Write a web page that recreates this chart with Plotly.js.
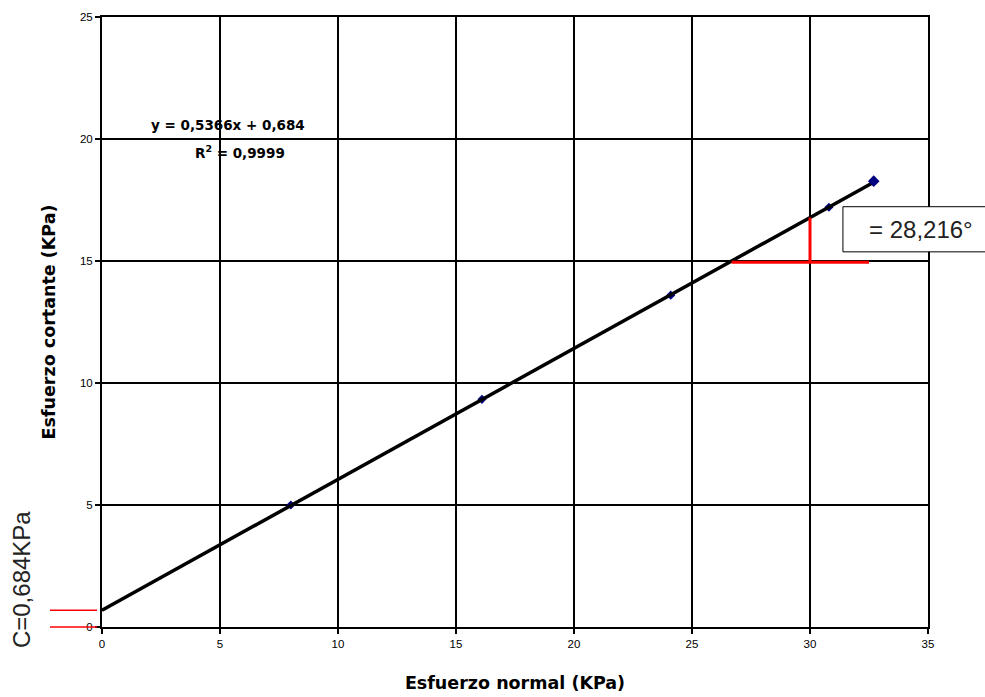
<!DOCTYPE html>
<html>
<head>
<meta charset="utf-8">
<script src="https://cdn.plot.ly/plotly-3.0.1.min.js"></script>
<style>
  html, body { margin: 0; padding: 0; background: #fff; }
  #chart { width: 985px; height: 697px; }
</style>
</head>
<body>
<div id="chart"></div>
<script>
// Direct shear test: normal stress vs. shear stress
const normalStress = [8.0, 16.1, 24.1, 30.8, 32.7];   // KPa
const shearStress  = [5.0, 9.33, 13.6, 17.2, 18.27];  // KPa

// Linear fit reported for the series
const slope = 0.5366;
const intercept = 0.684;
const rSquared = 0.9999;
const frictionAngle = 28.216;  // degrees

// Axis ranges and tick steps
const xRange = [0, 35];
const yRange = [0, 25];
const tickStep = 5;

const fmt = (v, d) => v.toFixed(d).replace('.', ',');

// Trendline from the fitted equation, across the measured span
const fitX = [0, normalStress[normalStress.length - 1]];
const fitY = fitX.map(x => slope * x + intercept);

// Slope triangle (run along y = 15, rise at x = 30)
const triY = 14.95;
const triXStart = (15 - intercept) / slope;
const triXEnd = 32.5;
const riseX = 30;
const riseTop = slope * riseX + intercept;

const toPaperY = v => (v - yRange[0]) / (yRange[1] - yRange[0]);

const points = {
  x: normalStress.slice(0, -1), y: shearStress.slice(0, -1),
  type: 'scatter', mode: 'markers',
  marker: { symbol: 'diamond', size: 7, color: '#000080' },
  hoverinfo: 'x+y', showlegend: false
};

const trend = {
  x: fitX, y: fitY,
  type: 'scatter', mode: 'lines',
  line: { color: '#000', width: 3.5 },
  hoverinfo: 'skip', showlegend: false
};

const lastPoint = {
  x: normalStress.slice(-1),
  y: shearStress.slice(-1),
  type: 'scatter', mode: 'markers',
  marker: { symbol: 'diamond', size: 9, color: '#000080' },
  hoverinfo: 'skip', showlegend: false
};

const tickFont = { family: 'Arial, "Liberation Sans", sans-serif', size: 11.5, color: '#000' };
const titleFont = { family: '"DejaVu Sans", Arial, sans-serif', size: 17.5, color: '#000', weight: 'bold' };
const bigFont = { family: 'Arial, "Liberation Sans", sans-serif', size: 24, color: '#222' };
const eqFont = { family: '"DejaVu Sans", Arial, sans-serif', size: 13.5, color: '#000', weight: 'bold' };

const layout = {
  width: 985, height: 697, autosize: false,
  margin: { l: 102, r: 57, t: 17, b: 70 },
  paper_bgcolor: '#fff', plot_bgcolor: '#fff',
  xaxis: {
    range: xRange, dtick: tickStep, tick0: 0,
    showgrid: true, gridcolor: '#000', gridwidth: 1.2,
    zeroline: false,
    showline: true, linecolor: '#000', linewidth: 2, mirror: true,
    ticks: 'outside', ticklen: 5, tickcolor: '#000', tickwidth: 1.5,
    tickfont: tickFont,
    title: { text: 'Esfuerzo normal (KPa)', font: titleFont, standoff: 28 }
  },
  yaxis: {
    range: yRange, dtick: tickStep, tick0: 0,
    showgrid: true, gridcolor: '#000', gridwidth: 1.2,
    zeroline: false,
    showline: true, linecolor: '#000', linewidth: 2, mirror: true,
    ticks: 'outside', ticklen: 5, tickcolor: '#000', tickwidth: 1.5,
    tickfont: tickFont,
    title: { text: 'Esfuerzo cortante (KPa)', font: titleFont, standoff: 20 }
  },
  shapes: [
    // slope triangle
    { type: 'line', xref: 'x', yref: 'y', x0: triXStart, x1: triXEnd, y0: triY, y1: triY,
      line: { color: '#ff0000', width: 3 } },
    { type: 'line', xref: 'x', yref: 'y', x0: riseX, x1: riseX, y0: triY, y1: riseTop,
      line: { color: '#ff0000', width: 3 } },
    // cohesion markers beside the y axis
    { type: 'line', xref: 'paper', yref: 'paper', x0: -0.063, x1: -0.006,
      y0: toPaperY(intercept), y1: toPaperY(intercept), line: { color: '#ff0000', width: 1.5 } },
    { type: 'line', xref: 'paper', yref: 'paper', x0: -0.063, x1: -0.006,
      y0: toPaperY(0), y1: toPaperY(0), line: { color: '#ff0000', width: 1.5 } },
    // frame for the friction angle
    { type: 'rect', xref: 'paper', yref: 'paper', x0: 0.897, x1: 1.08, y0: 0.615, y1: 0.689,
      fillcolor: '#fff', line: { color: '#000', width: 1 } }
  ],
  annotations: [
    { xref: 'paper', yref: 'paper', x: 0.1525, y: 0.823, showarrow: false,
      text: 'y = ' + fmt(slope, 4) + 'x + ' + fmt(intercept, 3), font: eqFont,
      xanchor: 'center', yanchor: 'middle' },
    { xref: 'paper', yref: 'paper', x: 0.167, y: 0.779, showarrow: false,
      text: 'R<sup>2</sup> = ' + fmt(rSquared, 4), font: eqFont,
      xanchor: 'center', yanchor: 'middle' },
    { xref: 'paper', yref: 'paper', x: 0.926, y: 0.651, showarrow: false,
      text: '= ' + fmt(frictionAngle, 3) + '°', font: bigFont,
      xanchor: 'left', yanchor: 'middle' },
    { xref: 'paper', yref: 'paper', x: -0.098, y: 0.077, showarrow: false,
      text: 'C=' + fmt(intercept, 3) + 'KPa', font: bigFont, textangle: -90,
      xanchor: 'center', yanchor: 'middle' }
  ]
};

Plotly.newPlot('chart', [points, trend, lastPoint], layout, { displayModeBar: false, staticPlot: true });
</script>
</body>
</html>
